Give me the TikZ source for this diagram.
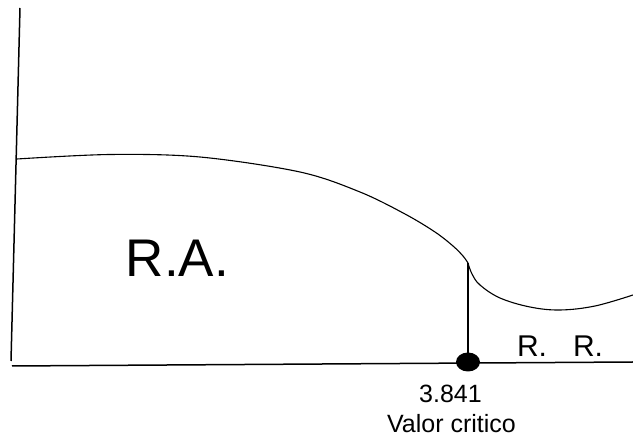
\documentclass[tikz,border=0pt]{standalone}
\usepackage{fontspec}
\setmainfont{Liberation Sans}
\usetikzlibrary{shapes.geometric}
\begin{document}
\begin{tikzpicture}[x=1pt,y=-1pt,
  axis/.style={line width=1.5pt},
  curve/.style={line width=1.1pt},
  lbl/.style={inner sep=0pt,anchor=base}]
\useasboundingbox (0,0) rectangle (633,438);
\coordinate (ytop) at (20,8);
\coordinate (ybot) at (11,361);
\coordinate (xl) at (12,366);
\coordinate (xr) at (633,362);
\coordinate (cusp) at (468,263);
\draw[axis] (ytop) -- (ybot);
\draw[axis] (xl) -- (xr);
\draw[curve] plot[smooth,tension=0.55] coordinates {(17,159) (110,154.5) (200,157) (300,172) (360,192) (405,214) (435,232) (453,246) (463,256) (468,263)};
\draw[curve] plot[smooth,tension=0.6] coordinates {(468,263) (472,274) (480,285) (500,298) (530,307) (560,310) (595,306) (633,295)};
\node[fill=black,ellipse,minimum width=24pt,minimum height=19pt,inner sep=0pt] (dot) at (468,362) {};
\draw[curve] (cusp) -- (dot.center);
\node[lbl,font=\fontsize{53}{53}\selectfont] (ra) at (177.5,277) {R.A.};
\node[lbl,font=\fontsize{30}{30}\selectfont] (r1) at (532,357) {R.};
\node[lbl,font=\fontsize{30}{30}\selectfont] (r2) at (588,357) {R.};
\node[lbl,font=\fontsize{25}{25}\selectfont] (v) at (450.5,403) {3.841};
\node[lbl,font=\fontsize{25}{25}\selectfont] (vc) at (451.5,433) {Valor critico};
\end{tikzpicture}
\end{document}
